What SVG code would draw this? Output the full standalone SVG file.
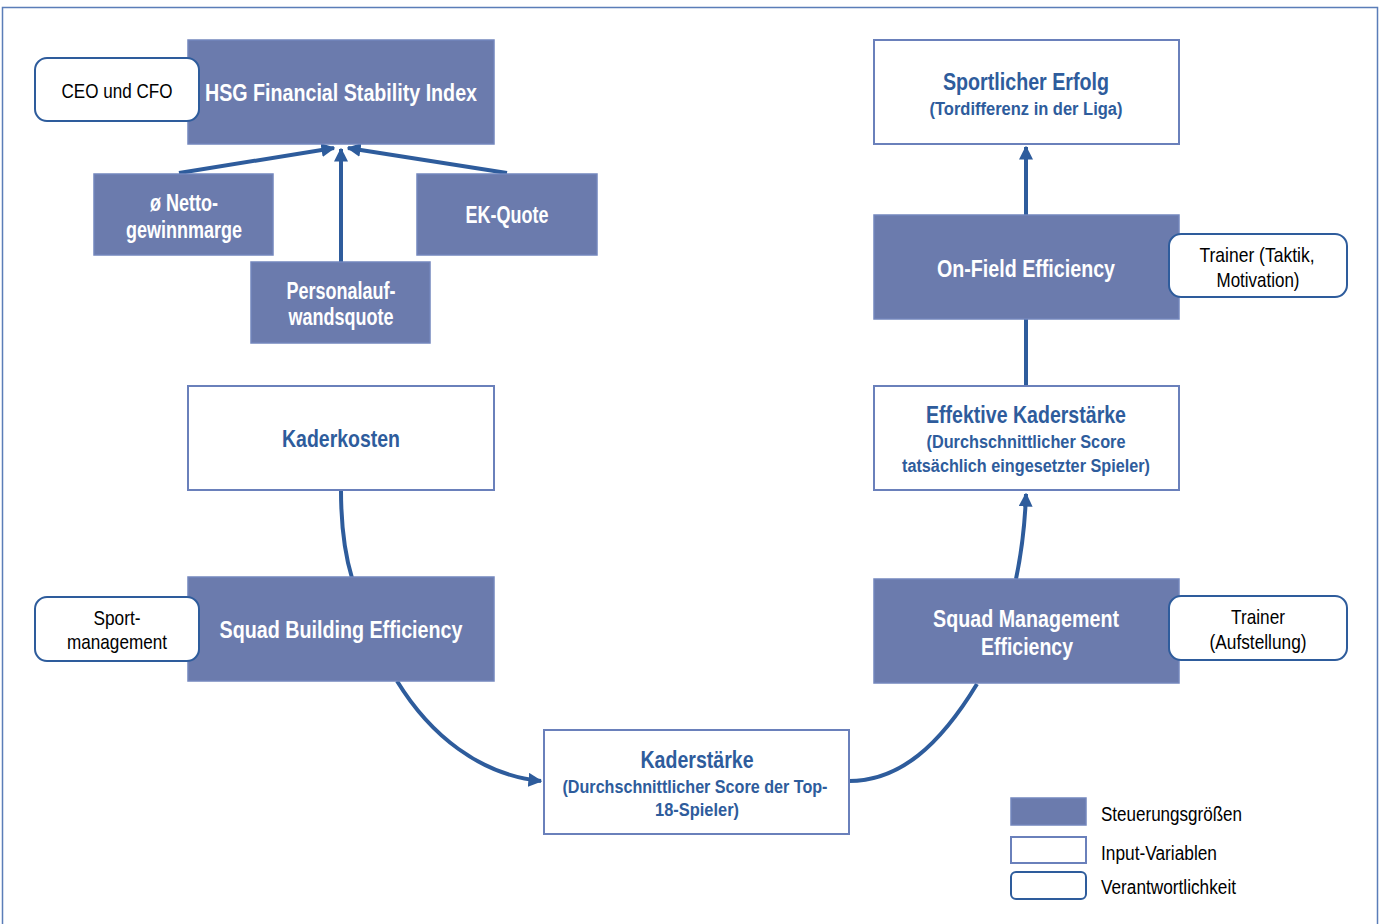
<svg xmlns="http://www.w3.org/2000/svg" width="1382" height="924" viewBox="0 0 1382 924">
  <style>
    .ctrl { fill: #6b7bad; stroke: #7386bd; stroke-width: 1.5; }
    .input { fill: #ffffff; stroke: #6a80bb; stroke-width: 2; }
    .resp { fill: #ffffff; stroke: #2e5c9c; stroke-width: 2; }
    text { font-family: "Liberation Sans Narrow", "Arial Narrow", "Liberation Sans", sans-serif; text-anchor: middle; }
    .wt { fill: #ffffff; font-weight: bold; font-size: 24px; }
    .wts { fill: #ffffff; font-weight: bold; font-size: 23px; }
    .bt { fill: #2e5c9c; font-weight: bold; font-size: 24px; }
    .bs { fill: #2e5c9c; font-weight: bold; font-size: 18px; }
    .kt { fill: #000000; font-size: 21px; }
    .lg { fill: #000000; font-size: 20px; text-anchor: start; }
    .conn { fill: none; stroke: #2e5c9c; stroke-width: 4; }
  </style>
  <defs>
    <marker id="arrow" viewBox="0 0 10 10" refX="9" refY="5" markerWidth="3.5" markerHeight="3.5" orient="auto" markerUnits="strokeWidth">
      <path d="M0,0 L10,5 L0,10 z" fill="#2e5c9c"/>
    </marker>
  </defs>

  <!-- outer frame -->
  <rect x="2.5" y="7.5" width="1375" height="930" fill="#ffffff" stroke="#5a7db8" stroke-width="1.5"/>

  <!-- connectors -->
  <g id="connectors">
    <line class="conn" x1="179" y1="173" x2="334" y2="148" marker-end="url(#arrow)"/>
    <line class="conn" x1="341" y1="262" x2="341" y2="149" marker-end="url(#arrow)"/>
    <line class="conn" x1="507" y1="173" x2="348" y2="148" marker-end="url(#arrow)"/>
    <path class="conn" d="M341,490 C341,530 345,555 352,578"/>
    <path class="conn" d="M397,681 C430,735 480,775 541,781" marker-end="url(#arrow)"/>
    <path class="conn" d="M849,781 C900,781 940,745 977,684"/>
    <path class="conn" d="M1016,579 C1022,550 1025,525 1026,494" marker-end="url(#arrow)"/>
    <line class="conn" x1="1026" y1="386" x2="1026" y2="319"/>
    <line class="conn" x1="1026" y1="215" x2="1026" y2="147" marker-end="url(#arrow)"/>
  </g>

  <!-- financial stability -->
  <g id="hsg-index">
    <rect class="ctrl" x="188" y="40" width="306" height="104"/>
    <text class="wt" x="341" y="101" textLength="272" lengthAdjust="spacingAndGlyphs">HSG Financial Stability Index</text>
  </g>
  <g id="ceo-cfo">
    <rect class="resp" x="35" y="58" width="164" height="63" rx="12"/>
    <text class="kt" x="117" y="98" textLength="111" lengthAdjust="spacingAndGlyphs">CEO und CFO</text>
  </g>
  <g id="nettogewinnmarge">
    <rect class="ctrl" x="94" y="174" width="179" height="81"/>
    <text class="wts" x="184" y="211" textLength="68" lengthAdjust="spacingAndGlyphs">ø Netto-</text>
    <text class="wts" x="184" y="238" textLength="116" lengthAdjust="spacingAndGlyphs">gewinnmarge</text>
  </g>
  <g id="personalaufwandsquote">
    <rect class="ctrl" x="251" y="262" width="179" height="81"/>
    <text class="wts" x="341" y="299" textLength="109" lengthAdjust="spacingAndGlyphs">Personalauf-</text>
    <text class="wts" x="341" y="325" textLength="105" lengthAdjust="spacingAndGlyphs">wandsquote</text>
  </g>
  <g id="ek-quote">
    <rect class="ctrl" x="417" y="174" width="180" height="81"/>
    <text class="wts" x="507" y="223" textLength="83" lengthAdjust="spacingAndGlyphs">EK-Quote</text>
  </g>

  <!-- squad building -->
  <g id="kaderkosten">
    <rect class="input" x="188" y="386" width="306" height="104"/>
    <text class="bt" x="341" y="447" textLength="118" lengthAdjust="spacingAndGlyphs">Kaderkosten</text>
  </g>
  <g id="squad-building">
    <rect class="ctrl" x="188" y="577" width="306" height="104"/>
    <text class="wt" x="341" y="638" textLength="243" lengthAdjust="spacingAndGlyphs">Squad Building Efficiency</text>
  </g>
  <g id="sportmanagement">
    <rect class="resp" x="35" y="597" width="164" height="64" rx="12"/>
    <text class="kt" x="117" y="625" textLength="47" lengthAdjust="spacingAndGlyphs">Sport-</text>
    <text class="kt" x="117" y="649" textLength="100" lengthAdjust="spacingAndGlyphs">management</text>
  </g>
  <g id="kaderstaerke">
    <rect class="input" x="544" y="730" width="305" height="104"/>
    <text class="bt" x="697" y="768" textLength="113" lengthAdjust="spacingAndGlyphs">Kaderstärke</text>
    <text class="bs" x="695" y="793" textLength="265" lengthAdjust="spacingAndGlyphs">(Durchschnittlicher Score der Top-</text>
    <text class="bs" x="697" y="816" textLength="84" lengthAdjust="spacingAndGlyphs">18-Spieler)</text>
  </g>

  <!-- squad management -->
  <g id="squad-management">
    <rect class="ctrl" x="874" y="579" width="305" height="104"/>
    <text class="wt" x="1026" y="627" textLength="186" lengthAdjust="spacingAndGlyphs">Squad Management</text>
    <text class="wt" x="1027" y="655" textLength="92" lengthAdjust="spacingAndGlyphs">Efficiency</text>
  </g>
  <g id="trainer-aufstellung">
    <rect class="resp" x="1169" y="596" width="178" height="64" rx="12"/>
    <text class="kt" x="1258" y="624" textLength="54" lengthAdjust="spacingAndGlyphs">Trainer</text>
    <text class="kt" x="1258" y="649" textLength="97" lengthAdjust="spacingAndGlyphs">(Aufstellung)</text>
  </g>
  <g id="effektive-kaderstaerke">
    <rect class="input" x="874" y="386" width="305" height="104"/>
    <text class="bt" x="1026" y="423" textLength="200" lengthAdjust="spacingAndGlyphs">Effektive Kaderstärke</text>
    <text class="bs" x="1026" y="448" textLength="199" lengthAdjust="spacingAndGlyphs">(Durchschnittlicher Score</text>
    <text class="bs" x="1026" y="472" textLength="248" lengthAdjust="spacingAndGlyphs">tatsächlich eingesetzter Spieler)</text>
  </g>
  <g id="on-field">
    <rect class="ctrl" x="874" y="215" width="305" height="104"/>
    <text class="wt" x="1026" y="277" textLength="178" lengthAdjust="spacingAndGlyphs">On-Field Efficiency</text>
  </g>
  <g id="trainer-taktik">
    <rect class="resp" x="1169" y="234" width="178" height="63" rx="12"/>
    <text class="kt" x="1257" y="262" textLength="115" lengthAdjust="spacingAndGlyphs">Trainer (Taktik,</text>
    <text class="kt" x="1258" y="287" textLength="83" lengthAdjust="spacingAndGlyphs">Motivation)</text>
  </g>
  <g id="sportlicher-erfolg">
    <rect class="input" x="874" y="40" width="305" height="104"/>
    <text class="bt" x="1026" y="90" textLength="166" lengthAdjust="spacingAndGlyphs">Sportlicher Erfolg</text>
    <text class="bs" x="1026" y="115" textLength="193" lengthAdjust="spacingAndGlyphs">(Tordifferenz in der Liga)</text>
  </g>

  <!-- legend -->
  <g id="legend">
    <rect class="ctrl" x="1011" y="798" width="75" height="27"/>
    <text class="lg" x="1101" y="821" textLength="141" lengthAdjust="spacingAndGlyphs">Steuerungsgrößen</text>
    <rect class="input" x="1011" y="837" width="75" height="26"/>
    <text class="lg" x="1101" y="860" textLength="116" lengthAdjust="spacingAndGlyphs">Input-Variablen</text>
    <rect class="resp" x="1011" y="872" width="75" height="27" rx="5"/>
    <text class="lg" x="1101" y="894" textLength="135" lengthAdjust="spacingAndGlyphs">Verantwortlichkeit</text>
  </g>
</svg>
